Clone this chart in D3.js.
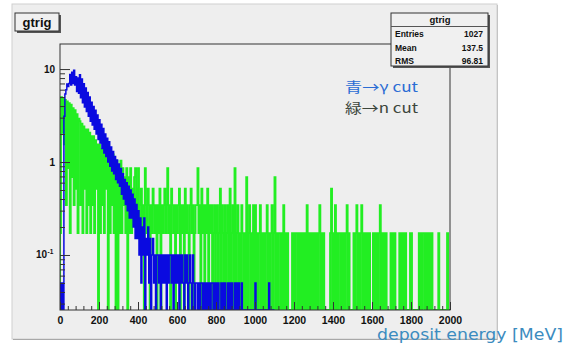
<!DOCTYPE html>
<html>
<head>
<meta charset="utf-8">
<script src="https://cdn.jsdelivr.net/npm/d3@7"></script>
<style>
  body { margin: 0; background: #fff; }
  svg { display: block; }
</style>
</head>
<body>
<svg id="chart" width="571" height="352"></svg>
<script>

var binWidth = 5;

// green: n cut (one count ~ 0.172)
var greenWeight = 0.172;
var greenCounts = [
  1,29,12,28,9,27,2,26,5,25,1,24,4,22,2,21,3,19,1,17,
  16,2,15,1,14,3,13,1,13,2,12,1,11,2,11,1,10,3,9,0,
  9,1,8,2,8,1,7,3,8,0,7,1,6,2,7,1,6,0,6,0,
  5,1,6,1,5,2,4,1,5,0,4,1,5,1,3,2,4,5,1,3,
  5,1,2,3,1,2,0,5,2,1,3,2,0,2,1,3,2,1,2,0,
  2,1,3,0,2,1,2,3,1,2,5,1,2,0,3,2,1,2,0,2,
  1,2,3,0,2,1,2,0,3,1,2,1,0,2,3,1,2,0,1,2,
  2,5,1,2,0,3,1,2,0,2,1,3,0,2,1,2,0,1,2,0,
  1,2,0,1,3,0,2,1,0,2,0,1,2,0,3,0,1,2,0,5,
  0,1,2,0,1,0,2,1,0,1,0,4,0,1,2,0,1,0,2,0,
  2,0,1,0,1,2,0,1,0,1,0,1,2,0,1,0,1,2,0,1,
  4,0,1,0,1,1,0,1,0,2,0,1,0,1,0,0,0,0,1,0,
  1,0,1,1,0,1,0,1,0,1,0,1,0,2,0,1,0,1,0,1,
  0,1,0,1,0,1,2,0,1,0,1,0,0,0,0,0,0,1,3,0,
  1,0,2,0,1,0,1,1,0,1,0,1,0,1,2,0,1,0,0,0,
  0,1,0,1,2,0,1,0,1,2,0,1,0,1,0,1,0,1,0,0,
  0,1,0,1,0,1,0,1,2,0,1,0,1,0,1,0,0,0,0,1,
  0,1,0,1,0,0,0,0,1,0,1,0,1,0,1,0,0,0,0,1,
  1,0,0,0,0,0,0,0,1,0,1,0,1,1,0,1,0,1,0,1,
  0,1,0,0,0,0,0,0,1,0,0,0,0,0,0,0,0,1,0,0
];

// blue: gamma cut (one count ~ 0.05)
var blueWeight = 0.05;
var blueCounts = [
  1,0,1,0,62,108,120,138,130,140,175,135,185,140,194,135,165,115,160,110,
  174,98,156,87,139,78,125,70,112,62,100,55,88,50,79,45,72,40,64,35,
  57,32,51,28,46,25,40,23,36,20,33,18,29,16,26,15,23,13,21,12,
  19,11,17,9,15,8,13,7,12,6,11,5,10,5,9,4,8,3,7,3,
  6,2,5,1,4,2,5,0,3,2,4,1,3,0,2,3,1,2,0,2,
  2,1,2,0,2,1,2,1,2,0,2,1,2,2,1,2,0,2,1,2,
  1,2,0,2,1,2,1,0,2,1,2,0,1,2,1,0,2,1,0,1,
  1,0,1,0,1,1,0,1,0,1,0,1,0,1,0,1,1,0,1,0,
  1,0,1,0,0,1,0,1,0,1,0,0,1,0,1,0,1,0,0,1,
  0,1,0,1,0,0,1,0,0,0,0,0,0,0,0,0,0,0,0,0,
  1,0,0,0,0,0,0,0,0,0,0,0,0,0,1,0,0,0,0,0
];

var xTickValues = [0, 200, 400, 600, 800, 1000, 1200, 1400, 1600, 1800, 2000];
var yMajorValues = [0.1, 1, 10];
var yLabelBase = ["10", "1", "10"];
var yLabelExp = ["-1", "", ""];

var statLabels = ["Entries", "Mean", "RMS"];
var statValues = ["1027", "137.5", "96.81"];
var histName = "gtrig";
var legendLabels = ["青→γ cut", "緑→n cut"];
var xTitle = "deposit energy [MeV]";


var svg = d3.select("#chart");
var font = "'Liberation Sans', Arial, sans-serif";

var frame = {left: 60, right: 450, top: 44, bottom: 310};

var x = d3.scaleLinear().domain([0, 2000]).range([frame.left, frame.right]);
var y = d3.scaleLog().domain([0.0256, 18.6]).range([frame.bottom, frame.top]);
var yFloor = y.domain()[0];

// canvas
svg.append("rect")
  .attr("x", 12).attr("y", 4)
  .attr("width", 485).attr("height", 335)
  .attr("fill", "#eeeeee")
  .attr("stroke", "#d0d0d0");
svg.append("line")
  .attr("x1", 13).attr("x2", 497)
  .attr("y1", 339.5).attr("y2", 339.5)
  .attr("stroke", "#a8a8a8");
svg.append("line")
  .attr("x1", 497.5).attr("x2", 497.5)
  .attr("y1", 5).attr("y2", 340)
  .attr("stroke", "#c4c4c4");

svg.append("clipPath").attr("id", "frameClip")
  .append("rect")
  .attr("x", frame.left).attr("y", frame.top)
  .attr("width", frame.right - frame.left)
  .attr("height", frame.bottom - frame.top);

// root style histogram outline: empty bins fall to the bottom of the frame
function hist_points(counts, weight){
  var pts = [[0, yFloor]];
  counts.forEach(function(c, i){
    var v = c > 0 ? c * weight : yFloor;
    pts.push([i * binWidth, v]);
    pts.push([(i + 1) * binWidth, v]);
  });
  pts.push([counts.length * binWidth, yFloor]);
  return pts;
}

var line = d3.line()
  .x(function(d){ return x(d[0]); })
  .y(function(d){ return Math.min(y(d[1]), frame.bottom); });

var plot = svg.append("g").attr("clip-path", "url(#frameClip)");

plot.append("path")
  .attr("d", line(hist_points(greenCounts, greenWeight)))
  .attr("fill", "none")
  .attr("stroke", "#22ee22")
  .attr("stroke-width", 1.9);

plot.append("path")
  .attr("d", line(hist_points(blueCounts, blueWeight)))
  .attr("fill", "none")
  .attr("stroke", "#0a0ae0")
  .attr("stroke-width", 1.5);

// frame
svg.append("rect")
  .attr("x", frame.left).attr("y", frame.top)
  .attr("width", frame.right - frame.left)
  .attr("height", frame.bottom - frame.top)
  .attr("fill", "none")
  .attr("stroke", "#333")
  .attr("stroke-width", 1);

// x axis ticks (inside the frame)
var xAxis = svg.append("g")
  .attr("transform", "translate(0," + frame.bottom + ")")
  .call(d3.axisBottom(x).tickValues(xTickValues).tickSize(-8).tickPadding(5)
    .tickFormat(d3.format("d")));
svg.append("g")
  .attr("transform", "translate(0," + frame.bottom + ")")
  .call(d3.axisBottom(x).tickValues(d3.range(0, 2001, 40)).tickSize(-4).tickFormat(""))
  .call(function(g){ g.select(".domain").remove(); });
xAxis.select(".domain").remove();
xAxis.selectAll("text")
  .attr("font-family", font)
  .attr("font-weight", "bold")
  .attr("font-size", "10.5px")
  .attr("fill", "#111")
  .attr("dy", "0.9em");
svg.selectAll(".tick line").attr("stroke", "#333");

// y axis ticks, log scale
var yMinor = [];
[0.01, 0.1, 1, 10].forEach(function(d){
  for (var k = 2; k <= 9; k++){
    var v = k * d;
    if (v > y.domain()[0] && v < y.domain()[1]) yMinor.push(v);
  }
});
svg.append("g")
  .attr("transform", "translate(" + frame.left + ",0)")
  .call(d3.axisLeft(y).tickValues(yMajorValues).tickSize(-10).tickFormat(""))
  .call(function(g){ g.select(".domain").remove(); })
  .selectAll("line").attr("stroke", "#333");
svg.append("g")
  .attr("transform", "translate(" + frame.left + ",0)")
  .call(d3.axisLeft(y).tickValues(yMinor).tickSize(-5).tickFormat(""))
  .call(function(g){ g.select(".domain").remove(); })
  .selectAll("line").attr("stroke", "#333");

svg.selectAll(".ylab")
  .data(yMajorValues)
  .enter()
  .append("text")
  .attr("class", "ylab")
  .attr("x", function(d, i){ return yLabelExp[i] ? 47 : 55; })
  .attr("y", function(d){ return y(d) + 3.5; })
  .attr("text-anchor", "end")
  .attr("font-family", font)
  .attr("font-weight", "bold")
  .attr("font-size", "10px")
  .attr("fill", "#111")
  .text(function(d, i){ return yLabelBase[i]; });
svg.selectAll(".yexp")
  .data(yMajorValues.filter(function(d, i){ return yLabelExp[i]; }))
  .enter()
  .append("text")
  .attr("class", "yexp")
  .attr("x", 47.5)
  .attr("y", function(d){ return y(d) - 0.5; })
  .attr("font-family", font)
  .attr("font-weight", "bold")
  .attr("font-size", "6.5px")
  .attr("fill", "#111")
  .text(function(d){ return yLabelExp[yMajorValues.indexOf(d)]; });

// title box
function pave(x0, y0, w, h){
  svg.append("rect")
    .attr("x", x0 + 2).attr("y", y0 + 2)
    .attr("width", w).attr("height", h)
    .attr("fill", "#555");
  svg.append("rect")
    .attr("x", x0).attr("y", y0)
    .attr("width", w).attr("height", h)
    .attr("fill", "#f0f0f0")
    .attr("stroke", "#333");
}

pave(15, 13, 44, 18);
svg.append("text")
  .attr("x", 37).attr("y", 26.5)
  .attr("text-anchor", "middle")
  .attr("font-family", font)
  .attr("font-weight", "bold")
  .attr("font-size", "13px")
  .attr("fill", "#111")
  .text(histName);

// stats box
pave(391, 13, 97, 53);
svg.append("line")
  .attr("x1", 391).attr("x2", 488)
  .attr("y1", 26.5).attr("y2", 26.5)
  .attr("stroke", "#555");
svg.append("text")
  .attr("x", 440).attr("y", 23)
  .attr("text-anchor", "middle")
  .attr("font-family", font)
  .attr("font-weight", "bold")
  .attr("font-size", "9.5px")
  .attr("fill", "#111")
  .text(histName);
svg.selectAll(".statLab")
  .data(statLabels)
  .enter()
  .append("text")
  .attr("class", "statLab")
  .attr("x", 395)
  .attr("y", function(d, i){ return 37 + i * 13.5; })
  .attr("font-family", font)
  .attr("font-weight", "bold")
  .attr("font-size", "8.5px")
  .attr("fill", "#111")
  .text(function(d){ return d; });
svg.selectAll(".statVal")
  .data(statValues)
  .enter()
  .append("text")
  .attr("class", "statVal")
  .attr("x", 483)
  .attr("y", function(d, i){ return 37 + i * 13.5; })
  .attr("text-anchor", "end")
  .attr("font-family", font)
  .attr("font-weight", "bold")
  .attr("font-size", "8.5px")
  .attr("fill", "#111")
  .text(function(d){ return d; });

// legend notes
var legendColors = ["#2a6cd4", "#3c463c"];
svg.selectAll(".legend")
  .data(legendLabels)
  .enter()
  .append("text")
  .attr("class", "legend")
  .attr("x", 345)
  .attr("y", function(d, i){ return 92 + i * 21; })
  .attr("font-family", "'Noto Sans CJK JP', sans-serif")
  .attr("font-size", "13.5px")
  .attr("textLength", 73)
  .attr("lengthAdjust", "spacingAndGlyphs")
  .attr("fill", function(d, i){ return legendColors[i]; })
  .text(function(d){ return d; });

// axis title
svg.append("text")
  .attr("x", 377).attr("y", 340)
  .attr("font-family", "'DejaVu Sans', sans-serif")
  .attr("font-size", "15px")
  .attr("textLength", 186)
  .attr("lengthAdjust", "spacingAndGlyphs")
  .attr("fill", "#3c8cc0")
  .text(xTitle);

</script>
</body>
</html>
